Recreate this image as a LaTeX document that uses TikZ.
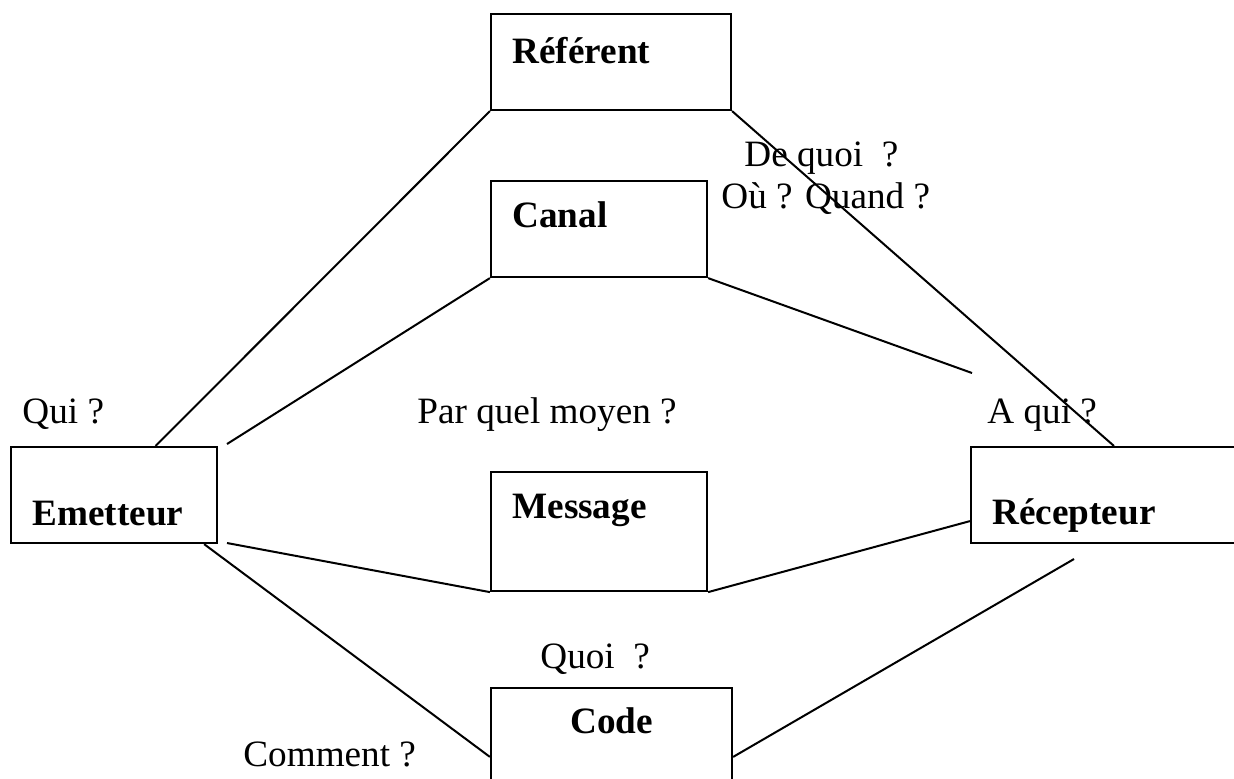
\documentclass[tikz,border=0pt]{standalone}
\usepackage{fontspec}
\setmainfont{Liberation Serif}
\usepackage{tikz}
\usetikzlibrary{calc}

\tikzset{
    box/.style={draw, line width=1.1pt, inner sep=0pt},
    lab/.style={anchor=base west, inner sep=0pt, font=\fontsize{18.6pt}{22pt}\selectfont},
    blab/.style={lab, font=\fontsize{18.6pt}{22pt}\selectfont\bfseries},
    link/.style={line width=1pt}
}

\begin{document}
\begin{tikzpicture}[x=0.5pt, y=-0.5pt]
    \useasboundingbox (0,0) rectangle (1234,778);
    \node[box, minimum width=120pt, minimum height=48pt] (referent) at (611,62) {};
    \node[box, minimum width=108pt, minimum height=48pt] (canal) at (599,229) {};
    \node[box, minimum width=103pt, minimum height=48pt] (emetteur) at (114,495) {};
    \node[box, minimum width=108pt, minimum height=59.5pt] (message) at (599,531.5) {};
    \node[box, minimum width=135pt, minimum height=48pt] (recepteur) at (1106,495) {};
    \node[box, minimum width=120.5pt, minimum height=60pt] (code) at (611.5,748) {};
    \node[blab] (treferent) at (512,63) {Référent};
    \node[blab] (tcanal) at (512,227) {Canal};
    \node[blab] (temetteur) at (32,525) {Emetteur};
    \node[blab] (tmessage) at (512,518) {Message};
    \node[blab] (trecepteur) at (992,524) {Récepteur};
    \node[blab] (tcode) at (570,733) {Code};
    \node[lab] (qui) at (22,423) {Qui ?};
    \node[lab] (moyen) at (417,423) {Par quel moyen ?};
    \node[lab] (aqui) at (987,423) {A qui ?};
    \node[lab] (dequoi) at (744,166) {De quoi\ \ ?};
    \node[lab] (quand) at (721,208) {Où ? Quand ?};
    \node[lab] (quoi) at (540,668) {Quoi\ \ ?};
    \node[lab] (comment) at (243,766) {Comment ?};
    \coordinate (ecanal) at (227,444);
    \coordinate (emessage) at (227,543);
    \coordinate (rcanal) at (972,373);
    \coordinate (rcode) at (1074,559);
    \draw[link] ($(emetteur.north west)!0.7!(emetteur.north east)$) -- (referent.south west);
    \draw[link] (referent.south east) -- ($(recepteur.north west)+(144,0)$);
    \draw[link] (ecanal) -- (canal.south west);
    \draw[link] (canal.south east) -- (rcanal);
    \draw[link] (emessage) -- (message.south west);
    \draw[link] (message.south east) -- ($(recepteur.south west)+(0,-23)$);
    \draw[link] ($(emetteur.south east)+(-14,0)$) -- ($(code.north west)+(0,70)$);
    \draw[link] ($(code.north east)+(0,70)$) -- (rcode);
\end{tikzpicture}
\end{document}
